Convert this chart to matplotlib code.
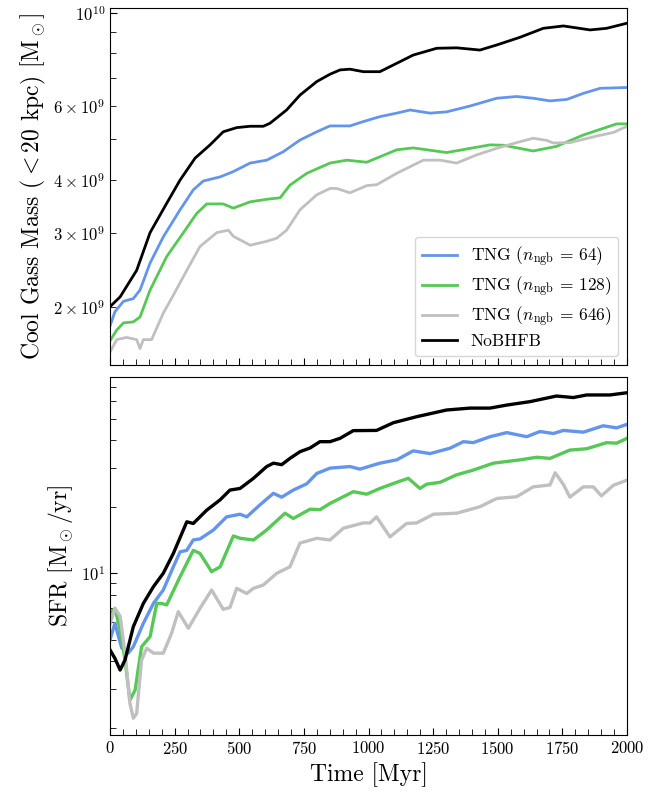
import numpy as np
import matplotlib
matplotlib.use('Agg')
import matplotlib.pyplot as plt
from matplotlib.ticker import MultipleLocator

plt.rcParams['mathtext.fontset'] = 'cm'
plt.rcParams['font.family'] = 'serif'
plt.rcParams['font.serif'] = ['cmr10', 'DejaVu Serif']
plt.rcParams['axes.formatter.use_mathtext'] = True

# ---- cool gas mass (< 20 kpc) [Msun] ----
t_m_nobh = [0, 39, 103, 155, 219, 271, 329, 387, 438, 490, 542, 593, 619, 683, 735, 800,
            851, 890, 928, 980, 1044, 1096, 1173, 1264, 1341, 1431, 1496, 1586, 1676, 1754,
            1857, 1921, 2000]
m_nobh = [2.00e9, 2.11e9, 2.44e9, 3.00e9, 3.52e9, 4.00e9, 4.51e9, 4.85e9, 5.21e9, 5.33e9,
          5.37e9, 5.37e9, 5.46e9, 5.87e9, 6.37e9, 6.86e9, 7.14e9, 7.31e9, 7.34e9, 7.24e9,
          7.24e9, 7.51e9, 7.93e9, 8.23e9, 8.25e9, 8.15e9, 8.38e9, 8.74e9, 9.18e9, 9.30e9,
          9.10e9, 9.18e9, 9.44e9]

t_m_64 = [0, 19, 52, 90, 116, 155, 206, 271, 322, 361, 426, 477, 542, 606, 670, 735, 800,
          851, 928, 980, 1044, 1109, 1161, 1238, 1302, 1393, 1496, 1573, 1637, 1702, 1767,
          1831, 1896, 2000]
m_64 = [1.80e9, 1.945e9, 2.06e9, 2.09e9, 2.19e9, 2.54e9, 2.93e9, 3.40e9, 3.79e9, 3.98e9,
        4.07e9, 4.19e9, 4.39e9, 4.46e9, 4.67e9, 4.98e9, 5.21e9, 5.38e9, 5.38e9, 5.51e9,
        5.66e9, 5.77e9, 5.87e9, 5.77e9, 5.81e9, 6.00e9, 6.26e9, 6.32e9, 6.26e9, 6.17e9,
        6.22e9, 6.43e9, 6.61e9, 6.64e9]

t_m_128 = [0, 26, 52, 90, 116, 155, 219, 284, 335, 374, 438, 477, 542, 606, 658, 696, 761,
           851, 916, 993, 1109, 1173, 1302, 1470, 1522, 1637, 1727, 1831, 1960, 2000]
m_128 = [1.66e9, 1.76e9, 1.83e9, 1.84e9, 1.89e9, 2.19e9, 2.63e9, 3.00e9, 3.33e9, 3.51e9,
         3.51e9, 3.43e9, 3.55e9, 3.60e9, 3.63e9, 3.89e9, 4.15e9, 4.39e9, 4.46e9, 4.41e9,
         4.72e9, 4.77e9, 4.65e9, 4.85e9, 4.84e9, 4.69e9, 4.81e9, 5.12e9, 5.44e9, 5.44e9]

t_m_646 = [0, 26, 64, 103, 116, 129, 161, 206, 245, 297, 348, 413, 458, 477, 542, 606, 645,
           683, 735, 800, 851, 877, 928, 993, 1032, 1109, 1212, 1277, 1341, 1418, 1496,
           1573, 1637, 1689, 1715, 1779, 1883, 1947, 2000]
m_646 = [1.56e9, 1.67e9, 1.69e9, 1.67e9, 1.59e9, 1.67e9, 1.67e9, 1.93e9, 2.13e9, 2.44e9,
         2.78e9, 3.00e9, 3.04e9, 2.94e9, 2.80e9, 2.86e9, 2.91e9, 3.04e9, 3.40e9, 3.69e9,
         3.82e9, 3.82e9, 3.73e9, 3.88e9, 3.90e9, 4.15e9, 4.46e9, 4.46e9, 4.39e9, 4.59e9,
         4.76e9, 4.91e9, 5.03e9, 4.97e9, 4.90e9, 4.91e9, 5.09e9, 5.19e9, 5.37e9]

# ---- SFR [Msun/yr] ----
t_s_nobh = [0, 19, 39, 58, 90, 129, 168, 206, 245, 297, 322, 374, 426, 464, 503, 555, 606,
            632, 664, 696, 735, 774, 812, 851, 890, 941, 1031, 1096, 1186, 1302, 1393, 1470,
            1535, 1625, 1727, 1792, 1844, 1934, 2000]
s_nobh = [4.5, 4.12, 3.65, 4.05, 5.73, 7.31, 8.7, 10.0, 12.3, 17.1, 16.8, 19.3, 21.5, 23.8,
          24.2, 26.9, 30.4, 31.5, 31.0, 33.1, 35.5, 36.9, 39.4, 39.4, 40.8, 44.2, 44.3, 48.0,
          51.1, 54.8, 55.9, 55.9, 57.7, 59.8, 63.4, 62.4, 64.1, 64.1, 65.6]

t_s_64 = [0, 19, 45, 70, 90, 129, 168, 206, 245, 271, 297, 322, 348, 400, 451, 503, 529,
          580, 632, 664, 709, 761, 800, 851, 928, 967, 1044, 1109, 1173, 1238, 1315, 1367,
          1405, 1470, 1535, 1612, 1663, 1715, 1754, 1831, 1908, 1960, 2000]
s_64 = [5.0, 5.94, 4.6, 4.35, 4.65, 5.94, 7.31, 8.4, 10.7, 12.5, 12.7, 14.15, 14.3, 15.7,
        18.0, 18.5, 18.0, 20.4, 23.0, 22.1, 23.8, 25.4, 28.3, 29.9, 30.4, 29.6, 31.5, 32.6,
        35.8, 34.8, 36.8, 39.4, 39.0, 41.5, 43.3, 41.5, 43.8, 42.9, 44.3, 43.5, 46.5, 45.5,
        47.2]

t_s_128 = [0, 19, 39, 58, 77, 97, 122, 155, 181, 200, 219, 271, 322, 348, 393, 426, 477,
           503, 555, 606, 677, 709, 774, 812, 851, 941, 993, 1044, 1109, 1154, 1199, 1225,
           1277, 1341, 1405, 1483, 1586, 1651, 1702, 1779, 1844, 1921, 1960, 2000]
s_128 = [6.6, 6.94, 5.54, 4.05, 2.67, 2.96, 4.65, 5.17, 7.31, 7.3, 7.19, 9.65, 12.7, 12.3,
         10.17, 10.7, 14.75, 14.4, 14.15, 15.7, 18.7, 17.7, 19.5, 19.4, 20.7, 23.4, 22.8,
         24.2, 25.8, 26.9, 24.2, 25.3, 25.8, 27.9, 29.3, 31.5, 32.6, 33.5, 33.1, 36.1, 36.6,
         39.0, 38.8, 40.8]

t_s_646 = [0, 19, 39, 58, 77, 90, 103, 122, 142, 168, 206, 238, 264, 303, 348, 393, 438,
           464, 490, 529, 555, 593, 645, 696, 735, 800, 851, 903, 980, 1006, 1031, 1083,
           1147, 1186, 1251, 1341, 1431, 1496, 1573, 1637, 1702, 1722, 1754, 1779, 1831,
           1870, 1901, 1947, 2000]
s_646 = [5.9, 6.94, 6.4, 4.35, 2.58, 2.21, 2.32, 4.05, 4.58, 4.35, 4.35, 5.35, 6.7, 5.64,
         6.94, 8.4, 6.87, 7.0, 8.55, 8.1, 8.55, 8.85, 10.0, 10.7, 13.7, 14.4, 14.15, 16.0,
         16.9, 16.9, 18.0, 14.6, 16.8, 16.9, 18.5, 18.7, 20.0, 21.8, 22.2, 24.6, 25.1, 28.5,
         25.2, 22.1, 24.6, 24.6, 22.4, 25.0, 26.4]

c_64 = '#6495ed'
c_128 = '#55c855'
c_646 = '#c0c0c0'
c_nobh = 'black'

fig = plt.figure(figsize=(6.64, 7.92), dpi=100)
ax1 = fig.add_axes([0.1657, 0.5391, 0.7786, 0.4508])
ax2 = fig.add_axes([0.1657, 0.0720, 0.7786, 0.4520])

lw1 = 2.0
ax1.plot(t_m_64, m_64, color=c_64, lw=lw1, label=r'TNG ($n_{\mathrm{ngb}}\,=\,64$)')
ax1.plot(t_m_128, m_128, color=c_128, lw=lw1, label=r'TNG ($n_{\mathrm{ngb}}\,=\,128$)')
ax1.plot(t_m_646, m_646, color=c_646, lw=lw1, label=r'TNG ($n_{\mathrm{ngb}}\,=\,646$)')
ax1.plot(t_m_nobh, m_nobh, color=c_nobh, lw=lw1, label='NoBHFB')

lw2 = 2.4
ax2.plot(t_s_64, s_64, color=c_64, lw=lw2)
ax2.plot(t_s_128, s_128, color=c_128, lw=lw2)
ax2.plot(t_s_646, s_646, color=c_646, lw=lw2)
ax2.plot(t_s_nobh, s_nobh, color=c_nobh, lw=lw2)

ax1.set_yscale('log')
ax2.set_yscale('log')
ax1.set_ylim(1.453e9, 1.026e10)
ax2.set_ylim(1.855, 77.3)

for ax in (ax1, ax2):
    ax.set_xlim(0, 2000)
    ax.xaxis.set_major_locator(MultipleLocator(250))
    ax.xaxis.set_minor_locator(MultipleLocator(50))
    ax.tick_params(which='both', direction='in', top=False, right=False, labelsize=12)
    ax.tick_params(which='major', length=5)
    ax.tick_params(which='minor', length=4)

ax1.tick_params(axis='x', labelbottom=False)

ax1.set_ylabel(r'Cool Gass Mass ($<20$ kpc) [M$_\odot$]', fontsize=17)
ax2.set_ylabel(r'SFR [M$_\odot$/yr]', fontsize=17)
ax2.set_xlabel('Time [Myr]', fontsize=17)

ax1.legend(loc='lower right', fontsize=12.5, labelspacing=0.3)

fig.savefig('out.png', dpi=100)
